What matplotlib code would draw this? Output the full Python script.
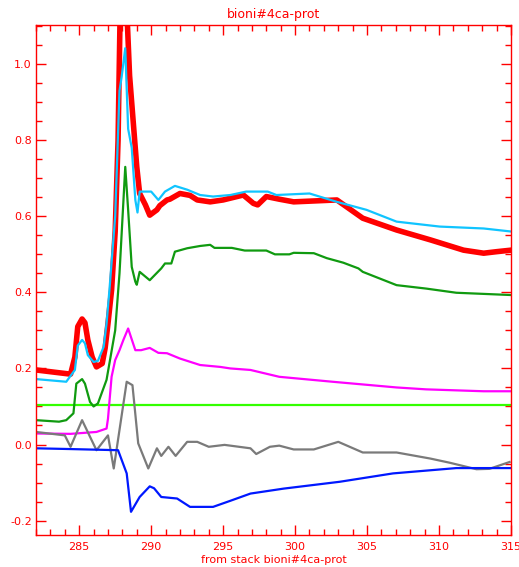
import matplotlib
matplotlib.use("Agg")
import matplotlib.pyplot as plt
from matplotlib.ticker import MultipleLocator, FormatStrFormatter

plt.rcParams["axes.unicode_minus"] = False

# energy (eV) / optical density, one pair per component
red_x = [282.0, 283.3, 284.4, 284.7, 284.9, 285.2, 285.4, 285.6, 285.9, 286.2, 286.6, 286.8, 287.0, 287.25,
         287.5, 287.7, 287.85, 288.3, 288.5, 288.75, 289.0, 289.2, 289.6, 289.9, 290.4, 290.6, 291.1, 291.3,
         292.0, 292.7, 293.2, 294.1, 295.0, 296.4, 297.1, 297.4, 298.0, 298.9, 299.9, 302.9, 304.7, 307.05,
         309.4, 311.7, 313.1, 314.0, 315.0]
red_y = [0.196, 0.19, 0.185, 0.23, 0.31, 0.33, 0.32, 0.275, 0.23, 0.204, 0.213, 0.253, 0.318, 0.406,
         0.56, 0.80, 1.15, 1.15, 0.97, 0.85, 0.73, 0.66, 0.63, 0.603, 0.617, 0.628, 0.643, 0.645,
         0.66, 0.655, 0.643, 0.638, 0.643, 0.656, 0.634, 0.63, 0.652, 0.645, 0.638, 0.643, 0.595, 0.564,
         0.538, 0.511, 0.503, 0.507, 0.511]

cyan_x = [282.0, 284.1, 284.7, 284.9, 285.2, 285.4, 285.6, 286.0, 286.3, 286.7, 286.9, 287.1, 287.5, 287.8,
          287.95, 288.2, 288.4, 288.65, 288.9, 289.05, 289.2, 290.0, 290.5, 290.96, 291.65, 292.5, 293.4,
          294.3, 295.5, 296.6, 298.1, 298.7, 301.0, 302.9, 304.96, 307.05, 310.05, 313.1, 315.0]
cyan_y = [0.172, 0.165, 0.196, 0.26, 0.275, 0.266, 0.235, 0.217, 0.22, 0.257, 0.318, 0.406, 0.60, 0.93,
          0.967, 1.042, 0.83, 0.78, 0.643, 0.61, 0.665, 0.665, 0.643, 0.665, 0.68, 0.67, 0.656,
          0.652, 0.656, 0.665, 0.665, 0.656, 0.66, 0.638, 0.617, 0.586, 0.573, 0.568, 0.56]

green_x = [282.0, 283.6, 284.1, 284.6, 284.8, 285.2, 285.4, 285.75, 286.0, 286.3, 286.9, 287.5, 287.8,
           288.2, 288.4, 288.65, 288.9, 289.0, 289.2, 289.9, 290.7, 290.96, 291.4, 291.65, 292.5, 293.4,
           294.1, 294.4, 295.6, 296.5, 298.0, 298.6, 299.6, 299.9, 301.3, 302.2, 303.35, 304.4, 304.7,
           307.05, 309.1, 311.2, 313.1, 315.0]
green_y = [0.064, 0.06, 0.064, 0.082, 0.16, 0.172, 0.16, 0.112, 0.10, 0.108, 0.17, 0.30, 0.45,
           0.73, 0.617, 0.467, 0.428, 0.42, 0.454, 0.432, 0.463, 0.476, 0.476, 0.507, 0.516, 0.522,
           0.525, 0.517, 0.517, 0.51, 0.51, 0.50, 0.50, 0.504, 0.503, 0.49, 0.478, 0.463, 0.454,
           0.419, 0.41, 0.399, 0.396, 0.393]

magenta_x = [282.0, 284.4, 286.2, 286.9, 287.0, 287.25, 287.5, 287.8, 288.07, 288.4, 288.9, 289.3, 289.9,
             290.5, 291.1, 292.0, 293.4, 294.8, 295.5, 296.9, 298.9, 302.6, 307.05, 309.1, 313.1, 315.0]
magenta_y = [0.029, 0.028, 0.033, 0.042, 0.068, 0.178, 0.222, 0.248, 0.275, 0.305, 0.248, 0.248, 0.254,
             0.241, 0.24, 0.226, 0.209, 0.204, 0.20, 0.196, 0.178, 0.165, 0.15, 0.145, 0.14, 0.14]

lime_x = [282.0, 315.0]
lime_y = [0.103, 0.103]

gray_x = [282.0, 284.0, 284.4, 285.2, 286.2, 287.0, 287.4, 288.3, 288.7, 289.1, 289.8, 290.4, 290.7,
          291.2, 291.7, 292.5, 293.2, 294.0, 295.1, 296.9, 297.3, 298.25, 298.9, 299.9, 301.3, 303.0,
          304.7, 307.05, 309.4, 310.75, 312.6, 313.5, 314.9]
gray_y = [0.033, 0.024, -0.006, 0.064, -0.015, 0.024, -0.063, 0.165, 0.156, 0.003, -0.063, -0.01, -0.03,
          -0.006, -0.03, 0.007, 0.007, -0.006, -0.001, -0.01, -0.025, -0.006, -0.003, -0.013, -0.013, 0.007,
          -0.021, -0.021, -0.037, -0.048, -0.065, -0.064, -0.046]

blue_x = [282.0, 284.4, 287.7, 288.3, 288.6, 289.2, 289.9, 290.2, 290.7, 291.8, 292.7, 294.3, 295.5,
          296.9, 299.2, 303.1, 306.8, 311.2, 315.0]
blue_y = [-0.01, -0.012, -0.015, -0.076, -0.177, -0.138, -0.11, -0.115, -0.138, -0.142, -0.164, -0.164, -0.148,
          -0.129, -0.116, -0.098, -0.076, -0.062, -0.062]

title = "bioni#4ca-prot"
xlabel = "from stack bioni#4ca-prot"

fig = plt.figure(figsize=(5.19, 5.67), dpi=100)
ax = fig.add_axes([0.0694, 0.0564, 0.9152, 0.8995])

ax.plot(lime_x, lime_y, color="#33ff00", lw=1.6)
ax.plot(red_x, red_y, color="#ff0000", lw=4.0)
ax.plot(cyan_x, cyan_y, color="#10c4ff", lw=1.6)
ax.plot(green_x, green_y, color="#109a10", lw=1.6)
ax.plot(magenta_x, magenta_y, color="#ff00ff", lw=1.6)
ax.plot(gray_x, gray_y, color="#7a7a7a", lw=1.6)
ax.plot(blue_x, blue_y, color="#0018ff", lw=1.6)

ax.set_xlim(282, 315)
ax.set_ylim(-0.238, 1.103)

ax.xaxis.set_major_locator(MultipleLocator(5))
ax.xaxis.set_minor_locator(MultipleLocator(1))
ax.yaxis.set_major_locator(MultipleLocator(0.2))
ax.yaxis.set_minor_locator(MultipleLocator(0.05))
ax.yaxis.set_major_formatter(FormatStrFormatter("%.1f"))

for s in ax.spines.values():
    s.set_color("red")
    s.set_linewidth(1.0)

ax.tick_params(which="both", direction="in", top=True, right=True, colors="red", labelsize=8, width=1.0)
ax.tick_params(which="major", length=7)
ax.tick_params(which="minor", length=4)
ax.tick_params(axis="x", pad=5)
ax.tick_params(axis="y", pad=3)

ax.set_title(title, color="red", fontsize=9, pad=5)
ax.set_xlabel(xlabel, color="red", fontsize=8, labelpad=2)

fig.savefig("out.png", dpi=100)
